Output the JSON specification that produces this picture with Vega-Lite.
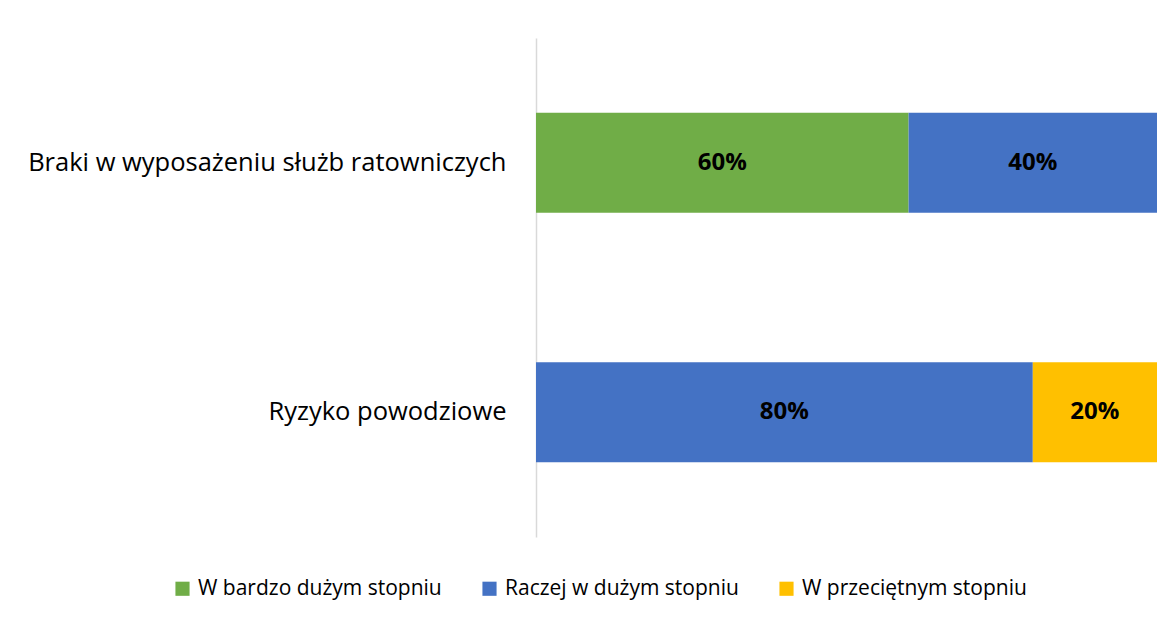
{
  "$schema": "https://vega.github.io/schema/vega-lite/v6.json",
  "autosize": {"type": "none"},
  "width": 621,
  "height": 499,
  "padding": {"left": 536, "top": 38, "right": 15, "bottom": 83},
  "background": "white",
  "config": {"view": {"stroke": null}, "font": "Open Sans"},
  "data": {"values": [
    {"cat": "Braki w wyposażeniu służb ratowniczych", "grp": "W bardzo dużym stopniu", "k": 1, "v": 0.6},
    {"cat": "Braki w wyposażeniu służb ratowniczych", "grp": "Raczej w dużym stopniu", "k": 2, "v": 0.4},
    {"cat": "Ryzyko powodziowe", "grp": "Raczej w dużym stopniu", "k": 2, "v": 0.8},
    {"cat": "Ryzyko powodziowe", "grp": "W przeciętnym stopniu", "k": 3, "v": 0.2}
  ]},
  "transform": [
    {"stack": "v", "groupby": ["cat"], "sort": [{"field": "k"}], "as": ["x0", "x1"]},
    {"calculate": "(datum.x0 + datum.x1) / 2", "as": "mid"}
  ],
  "encoding": {
    "y": {"field": "cat", "type": "nominal", "sort": null,
      "scale": {"paddingInner": 0.6, "paddingOuter": 0.3},
      "axis": {"title": null, "ticks": false, "domainColor": "#d9d9d9", "domainWidth": 1.5, "labelFontSize": 25.5, "labelColor": "#000", "labelPadding": 30, "labelLimit": 600, "labelFont": "Open Sans"}}
  },
  "layer": [
    {
      "mark": {"type": "bar"},
      "encoding": {
        "x": {"field": "x0", "type": "quantitative", "scale": {"domain": [0, 1]}, "axis": null},
        "x2": {"field": "x1"},
        "color": {"field": "grp", "type": "nominal",
          "scale": {"domain": ["W bardzo dużym stopniu", "Raczej w dużym stopniu", "W przeciętnym stopniu"], "range": ["#70AD47", "#4472C4", "#FFC000"]},
          "legend": {"title": null, "orient": "none", "legendX": -364, "legendY": 540, "direction": "horizontal", "columns": 3, "symbolType": "square", "symbolSize": 200, "symbolStrokeWidth": 0, "labelFontSize": 21, "labelFont": "Open Sans", "labelColor": "#000", "columnPadding": 37, "labelOffset": 5, "labelLimit": 400}}
      }
    },
    {
      "mark": {"type": "text", "fontWeight": "bold", "fontSize": 24, "color": "#000", "font": "Open Sans"},
      "encoding": {
        "x": {"field": "mid", "type": "quantitative"},
        "text": {"field": "v", "type": "quantitative", "format": ".0%"},
        "detail": {"field": "grp"}
      }
    }
  ]
}
